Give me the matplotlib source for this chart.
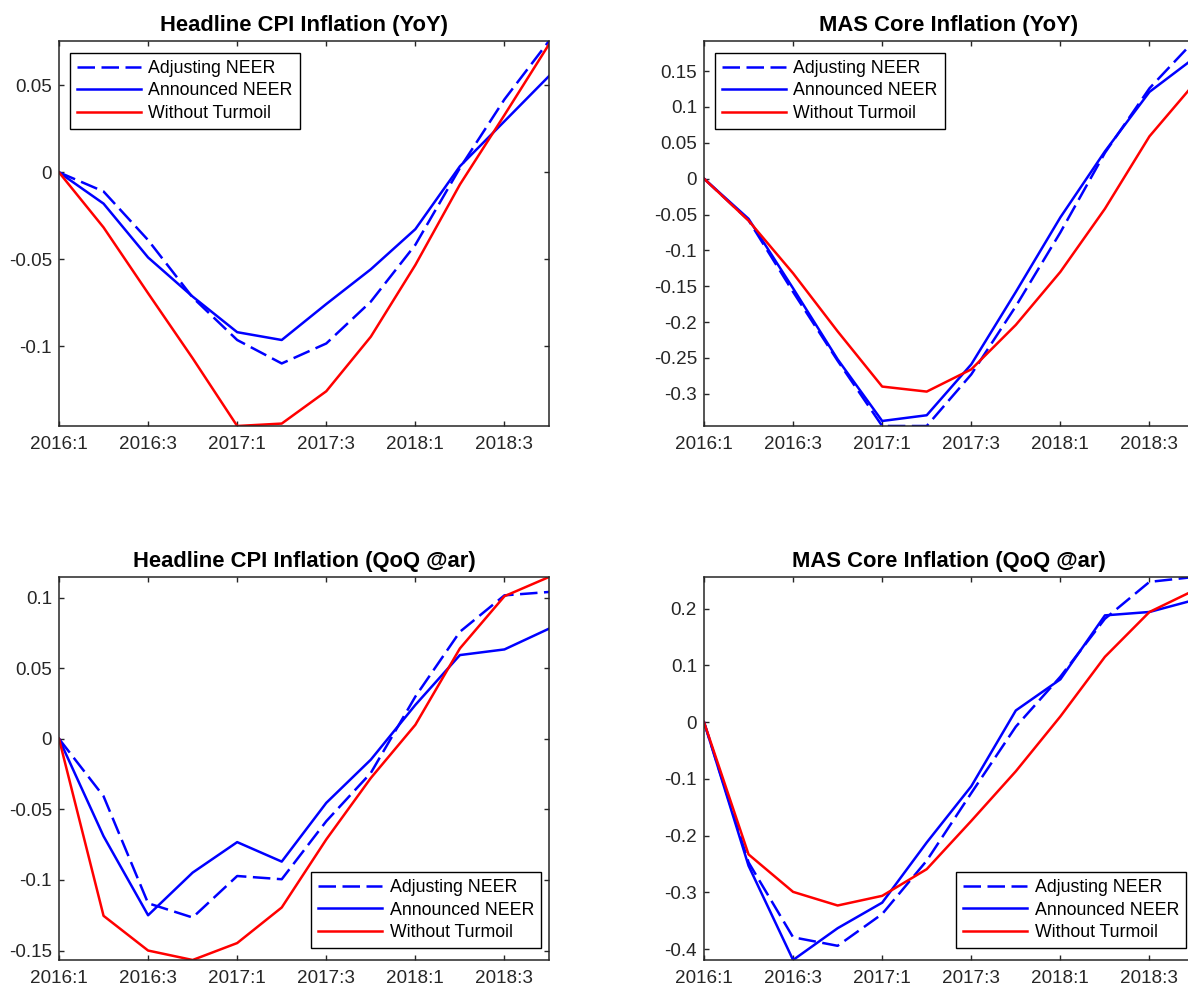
import matplotlib
matplotlib.use("Agg")
import matplotlib.pyplot as plt
from matplotlib.ticker import FuncFormatter

plt.rcParams['font.family'] = ['Liberation Sans', 'DejaVu Sans']
plt.rcParams['axes.unicode_minus'] = False

quarters = ["2016:1", "2016:2", "2016:3", "2016:4",
            "2017:1", "2017:2", "2017:3", "2017:4",
            "2018:1", "2018:2", "2018:3", "2018:4"]

# Headline CPI Inflation (YoY)
cpi_yoy_adj = [0, -0.011, -0.039, -0.072, -0.0965, -0.110, -0.0985, -0.0744, -0.0417, 0.0025, 0.042, 0.0756]
cpi_yoy_ann = [0, -0.018, -0.049, -0.0715, -0.092, -0.0965, -0.0758, -0.0558, -0.0327, 0.0035, 0.0294, 0.0554]
cpi_yoy_wt = [0, -0.0317, -0.0696, -0.107, -0.146, -0.1446, -0.126, -0.0946, -0.0533, -0.007, 0.033, 0.0737]

# MAS Core Inflation (YoY)
core_yoy_adj = [0, -0.058, -0.158, -0.254, -0.345, -0.345, -0.273, -0.178, -0.075, 0.036, 0.126, 0.192]
core_yoy_ann = [0, -0.056, -0.153, -0.252, -0.338, -0.330, -0.259, -0.158, -0.054, 0.038, 0.121, 0.168]
core_yoy_wt = [0, -0.0585, -0.132, -0.213, -0.290, -0.297, -0.266, -0.204, -0.130, -0.042, 0.059, 0.132]

# Headline CPI Inflation (QoQ @ar)
cpi_qoq_adj = [0, -0.0407, -0.1165, -0.1266, -0.0972, -0.0995, -0.0584, -0.0242, 0.0299, 0.0758, 0.1016, 0.104]
cpi_qoq_ann = [0, -0.069, -0.125, -0.0948, -0.0732, -0.087, -0.0454, -0.0148, 0.024, 0.0593, 0.0633, 0.078]
cpi_qoq_wt = [0, -0.1254, -0.150, -0.1567, -0.1447, -0.1195, -0.0713, -0.0278, 0.0099, 0.064, 0.101, 0.1146]

# MAS Core Inflation (QoQ @ar)
core_qoq_adj = [0, -0.247, -0.379, -0.394, -0.338, -0.244, -0.125, -0.008, 0.080, 0.182, 0.247, 0.2556]
core_qoq_ann = [0, -0.253, -0.419, -0.363, -0.318, -0.212, -0.113, 0.0205, 0.0754, 0.188, 0.194, 0.215]
core_qoq_wt = [0, -0.233, -0.299, -0.323, -0.306, -0.259, -0.174, -0.0866, 0.010, 0.115, 0.194, 0.232]

panels = [
    ("Headline CPI Inflation (YoY)", cpi_yoy_adj, cpi_yoy_ann, cpi_yoy_wt, 0.05, "upper left"),
    ("MAS Core Inflation (YoY)", core_yoy_adj, core_yoy_ann, core_yoy_wt, 0.05, "upper left"),
    ("Headline CPI Inflation (QoQ @ar)", cpi_qoq_adj, cpi_qoq_ann, cpi_qoq_wt, 0.05, "lower right"),
    ("MAS Core Inflation (QoQ @ar)", core_qoq_adj, core_qoq_ann, core_qoq_wt, 0.1, "lower right"),
]

W, H = 1188, 992
fig = plt.figure(figsize=(W / 100, H / 100), dpi=100)

# axes boxes in pixels: left, top, right, bottom (right column runs past the edge)
boxes = [(59, 41, 549, 426), (704, 41, 1194, 426),
         (59, 577, 549, 960), (704, 577, 1194, 960)]

x = list(range(len(quarters)))
dark = "#262626"


def fmt(v, pos):
    return "%g" % round(v, 4)


for (title, adj, ann, wt, step, loc), (l, t, r, b) in zip(panels, boxes):
    ax = fig.add_axes([l / W, 1 - b / H, (r - l) / W, (b - t) / H])
    ax.plot(x, adj, color=(0, 0, 1), lw=1.8, ls=(0, (7, 2.6)), label="Adjusting NEER")
    ax.plot(x, ann, color=(0, 0, 1), lw=1.8, label="Announced NEER")
    ax.plot(x, wt, color=(1, 0, 0), lw=1.8, label="Without Turmoil")

    lo = min(adj + ann + wt)
    hi = max(adj + ann + wt)
    ax.set_xlim(0, len(quarters) - 1)
    ax.set_ylim(lo, hi)

    ax.set_xticks(x[::2])
    ax.set_xticklabels(quarters[::2])
    k0 = int(round(lo / step - 0.5))
    ticks = [round(k * step, 4) for k in range(k0, int(hi / step) + 2)]
    ax.set_yticks([v for v in ticks if lo - 1e-9 <= v <= hi + 1e-9])
    ax.yaxis.set_major_formatter(FuncFormatter(fmt))

    ax.tick_params(direction="in", top=True, right=True, length=3.5, width=1,
                   color=dark, labelcolor=dark, labelsize=13.6)
    ax.tick_params(axis="x", pad=7)
    ax.tick_params(axis="y", pad=5)
    for s in ax.spines.values():
        s.set_color(dark)
        s.set_linewidth(1.1)

    ax.set_title(title, fontsize=15.8, fontweight="bold", pad=7)

    pw, ph = r - l, b - t
    if loc == "upper left":
        anchor = (11 / pw, 1 - 12 / ph)
    else:
        anchor = (1 - 8 / pw, 12 / ph)
    leg = ax.legend(loc=loc, bbox_to_anchor=anchor, borderaxespad=0,
                    fontsize=12.8, handlelength=3.6, handletextpad=0.4,
                    labelspacing=0.3, borderpad=0.4, fancybox=False,
                    framealpha=1, edgecolor="black")
    leg.get_frame().set_linewidth(1.0)

fig.savefig("out.png", dpi=100)
